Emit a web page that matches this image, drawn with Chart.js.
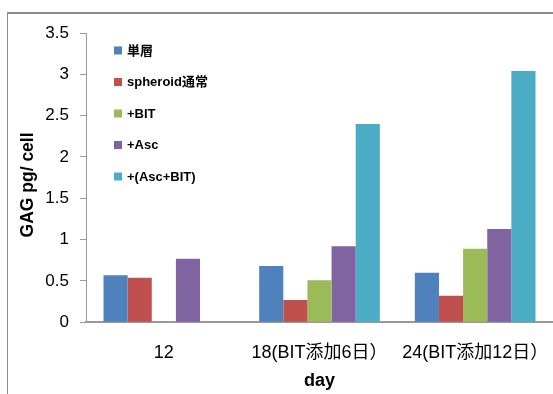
<!DOCTYPE html>
<html>
<head>
<meta charset="utf-8">
<script src="https://cdn.jsdelivr.net/npm/chart.js@4.4.1/dist/chart.umd.min.js"></script>
<style>
  html, body { margin: 0; padding: 0; background: #fff; }
  #wrap { position: relative; width: 553px; height: 394px; }
</style>
</head>
<body>
<div id="wrap"><canvas id="c" width="553" height="394"></canvas></div>
<script>
// Days of culture (x categories)
const days = ['12', '18(BIT添加6日）', '24(BIT添加12日）'];

// GAG content per cell for each condition
const seriesNames = ['単層', 'spheroid通常', '+BIT', '+Asc', '+(Asc+BIT)'];
const monolayer = [0.57, 0.68, 0.60];
const spheroid = [0.54, 0.27, 0.32];
const withBIT = [null, 0.51, 0.89];
const withAsc = [0.77, 0.92, 1.13];
const withAscBIT = [null, 2.40, 3.04];

const seriesColors = ['#4F81BD', '#C0504D', '#9BBB59', '#8064A2', '#4BACC6'];
const seriesValues = [monolayer, spheroid, withBIT, withAsc, withAscBIT];

const LATIN = '"Liberation Sans", Arial, "Noto Sans CJK JP", sans-serif';

// Outer frame of the chart object
const framePlugin = {
  id: 'frame',
  beforeDraw(chart) {
    const ctx = chart.ctx;
    ctx.save();
    ctx.strokeStyle = '#8c8c8c';
    ctx.lineWidth = 1;
    ctx.beginPath();
    ctx.moveTo(7.5, chart.height + 2);
    ctx.lineTo(7.5, 13);
    ctx.stroke();
    ctx.lineWidth = 2;
    ctx.beginPath();
    ctx.moveTo(7, 13);
    ctx.lineTo(chart.width + 2, 13);
    ctx.stroke();
    ctx.restore();
  }
};

// Legend drawn inside the plot area, top-left, one entry per row
const insideLegend = {
  id: 'insideLegend',
  afterDraw(chart) {
    const ctx = chart.ctx;
    const area = chart.chartArea;
    const x0 = area.left + 28;
    ctx.save();
    ctx.font = 'bold 13px ' + LATIN;
    ctx.textBaseline = 'middle';
    ctx.textAlign = 'left';
    chart.data.datasets.forEach((ds, i) => {
      const cy = area.top + 17.5 + i * 31.5;
      ctx.fillStyle = ds.backgroundColor;
      ctx.fillRect(x0, cy - 4, 8, 8);
      ctx.fillStyle = '#000';
      ctx.fillText(ds.label, x0 + 13, cy + 0.5);
    });
    ctx.restore();
  }
};

new Chart(document.getElementById('c'), {
  type: 'bar',
  data: {
    labels: days,
    datasets: seriesNames.map((name, i) => ({
      label: name,
      data: seriesValues[i],
      backgroundColor: seriesColors[i],
      borderWidth: 0,
      categoryPercentage: 0.775,
      barPercentage: 1.0
    }))
  },
  options: {
    responsive: false,
    animation: false,
    devicePixelRatio: 1,
    layout: { padding: { top: 33, right: 0, bottom: 0, left: 0 } },
    plugins: {
      legend: { display: false },
      tooltip: { enabled: false }
    },
    scales: {
      x: {
        grid: { display: false, drawTicks: false },
        border: { display: true, color: '#999999', width: 2 },
        ticks: {
          color: '#000',
          font: { family: LATIN, size: 18 },
          padding: 20,
          maxRotation: 0,
          autoSkip: false
        },
        title: {
          display: true,
          text: 'day',
          color: '#000',
          font: { family: LATIN, size: 18, weight: 'bold' },
          padding: { top: 0, bottom: 2 }
        },
        afterFit(scale) {
          scale.paddingLeft = 0;
          scale.paddingRight = 0;
          scale.height = 71.7;
        }
      },
      y: {
        min: 0,
        max: 3.5,
        ticks: {
          stepSize: 0.5,
          color: '#000',
          font: { family: LATIN, size: 17 },
          padding: 11,
          callback: (v) => String(Math.round(v * 10) / 10)
        },
        grid: {
          drawOnChartArea: false,
          drawTicks: true,
          tickLength: 6,
          color: '#999999'
        },
        border: { display: true, color: '#999999', width: 1 },
        title: {
          display: true,
          text: 'GAG pg/ cell   ',
          color: '#000',
          font: { family: LATIN, size: 17.5, weight: 'bold' },
          padding: { top: 18, bottom: 0 }
        },
        afterFit(scale) {
          scale.width = 86;
        }
      }
    }
  },
  plugins: [framePlugin, insideLegend]
});
</script>
</body>
</html>
